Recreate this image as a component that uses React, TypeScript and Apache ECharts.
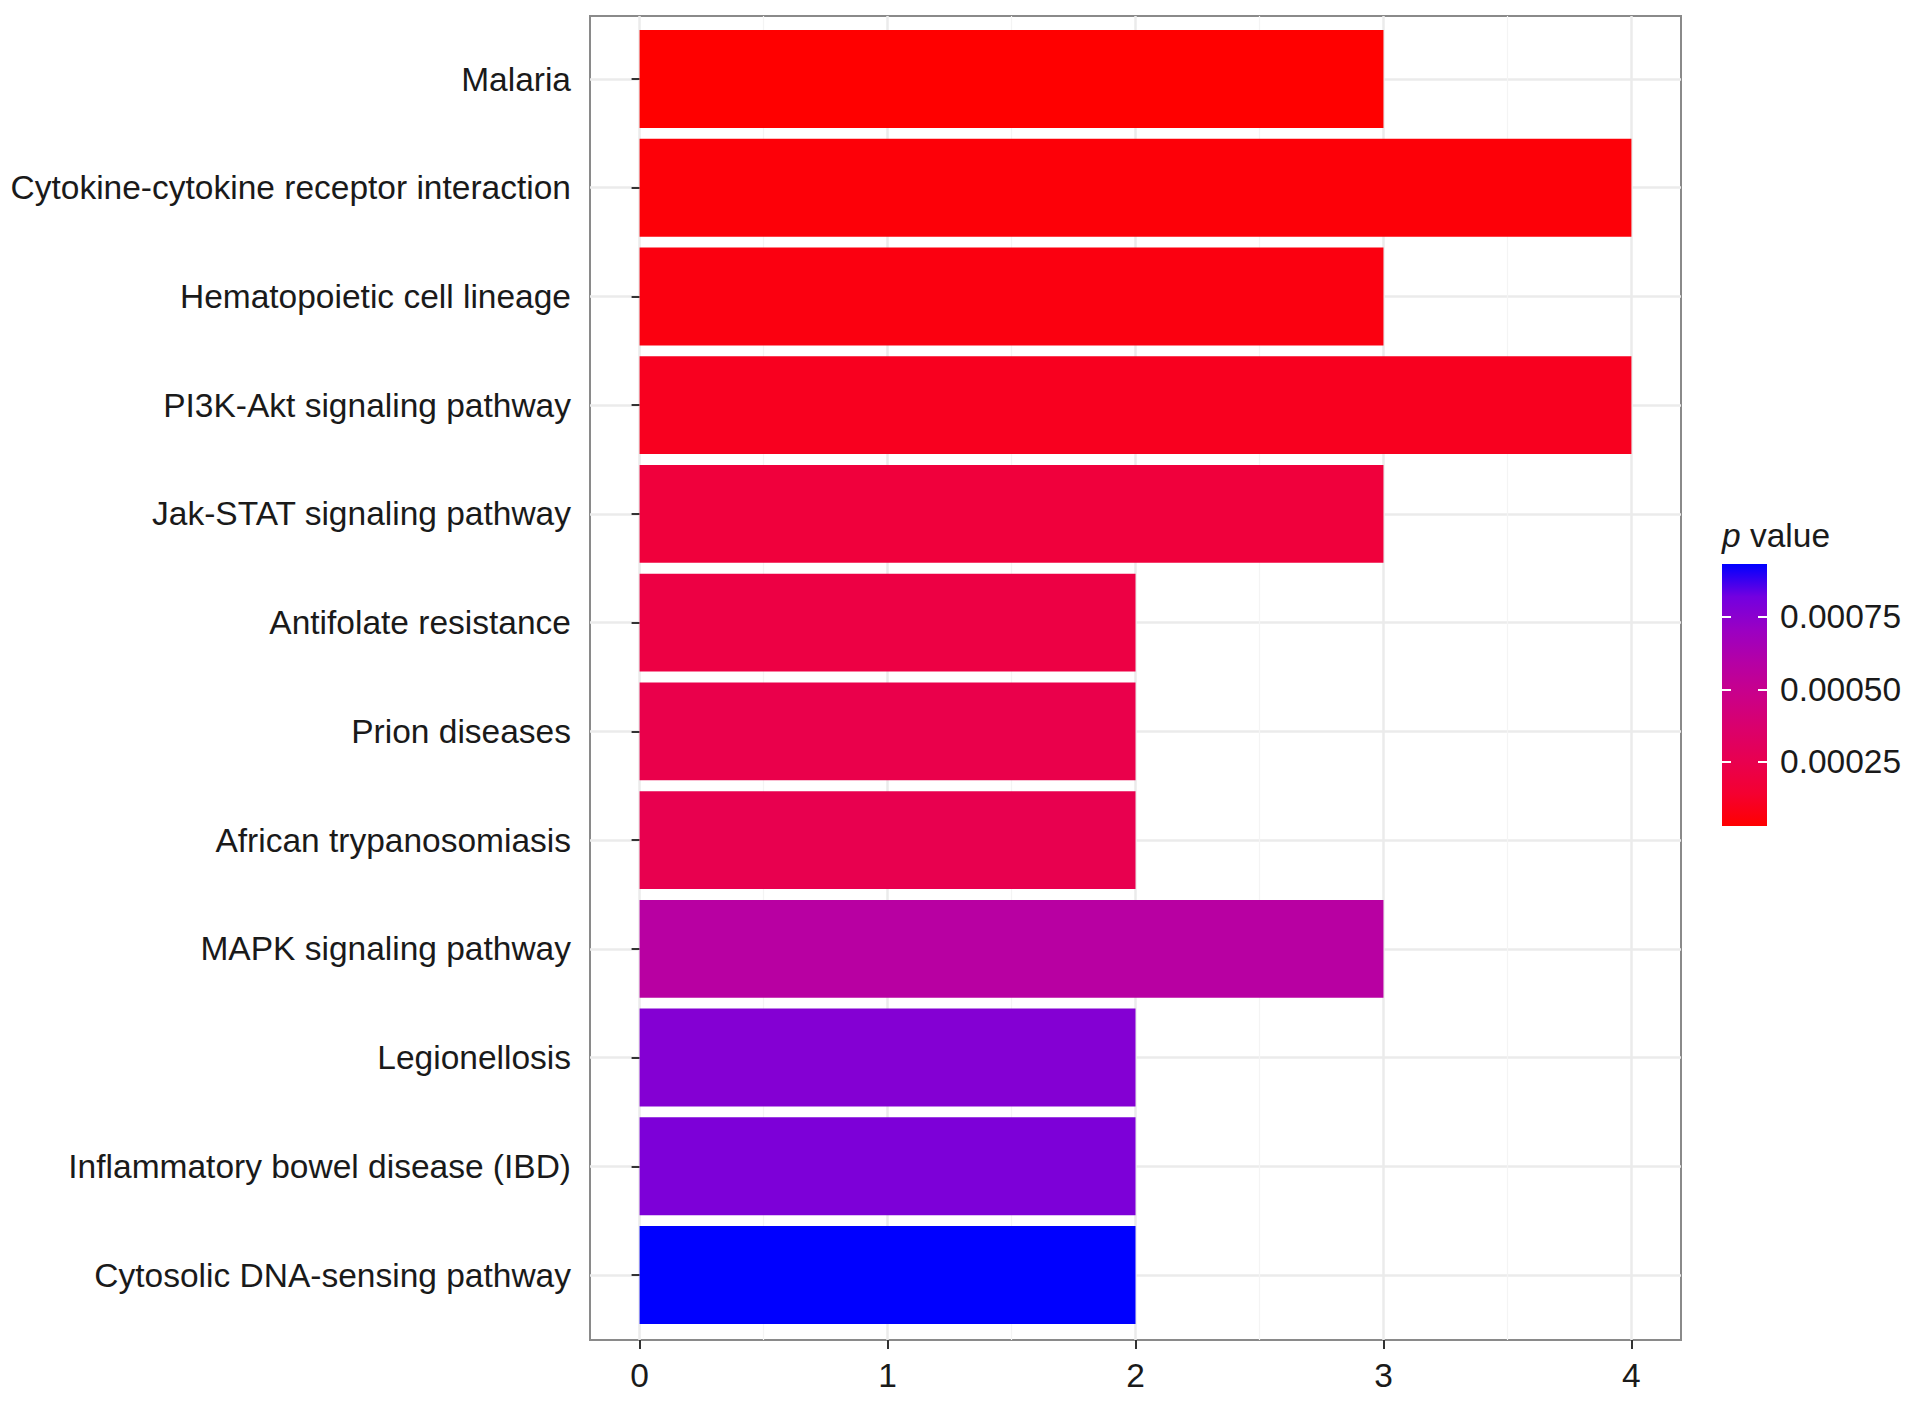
import { useEffect, useRef } from 'react'
import * as echarts from 'echarts'

const categories = [
  'Malaria',
  'Cytokine-cytokine receptor interaction',
  'Hematopoietic cell lineage',
  'PI3K-Akt signaling pathway',
  'Jak-STAT signaling pathway',
  'Antifolate resistance',
  'Prion diseases',
  'African trypanosomiasis',
  'MAPK signaling pathway',
  'Legionellosis',
  'Inflammatory bowel disease (IBD)',
  'Cytosolic DNA-sensing pathway',
]
const geneCounts = [3, 4, 3, 4, 3, 2, 2, 2, 3, 2, 2, 2]
const pValues = [0.000028, 0.000046, 0.000064, 0.0001, 0.00018, 0.00021, 0.000236, 0.00025, 0.00058, 0.00077, 0.00079, 0.000933]
const legendTicks = [0.00025, 0.0005, 0.00075]

// red -> blue ramp, sampled from a Lab interpolation like ggplot's gradient
const ramp = ['#FF0000', '#F40031', '#E80050', '#DA006C', '#CA0089', '#B500A5', '#9A00C3', '#7300E0', '#0000FF']

const FONT = '"Liberation Sans", Arial, Helvetica, sans-serif'
const TEXT = '#1a1a1a'
const pMin = Math.min(...pValues)
const pMax = Math.max(...pValues)

// panel box (pixels)
const PL = 590, PT = 16, PW = 1091, PH = 1324

export default function App() {
  const rootRef = useRef<HTMLDivElement | null>(null)
  useEffect(() => {
    document.body.style.margin = '0'
    if (!rootRef.current) return
    const chart = echarts.init(rootRef.current, null, { renderer: 'svg' })
    // top of the colour bar is blue (high p), bottom is red; offsets must ascend
    const gradStops = ramp.slice().reverse().map((c, i) => ({ offset: i / (ramp.length - 1), color: c }))
    chart.setOption({
      animation: false,
      textStyle: { fontFamily: FONT },
      grid: [
        { left: PL, top: PT, width: PW, height: PH, show: true, borderColor: '#8a8a8a', borderWidth: 2, backgroundColor: 'transparent' },
        { left: PL + (PW * 0.2) / 4.4, top: PT, width: (PW * 4) / 4.4, height: PH },
        { left: PL, top: 79, width: PW, height: 1196 },
        { left: 1722, top: 564, width: 45, height: 262 },
      ],
      xAxis: [
        { gridIndex: 0, type: 'value', show: false },
        {
          gridIndex: 1, type: 'value', min: 0, max: 4, interval: 1, position: 'bottom',
          axisLine: { show: false },
          axisTick: { show: true, length: 9, lineStyle: { color: '#333', width: 2 } },
          axisLabel: { fontSize: 33.5, color: TEXT, margin: 18, fontFamily: FONT },
          splitLine: { show: true, lineStyle: { color: '#ebebeb', width: 2.5 } },
          minorTick: { show: false, splitNumber: 2 },
          minorSplitLine: { show: true, lineStyle: { color: '#f4f4f4', width: 1.2 } },
        },
        { gridIndex: 2, type: 'value', min: -0.2, max: 4.2, show: false },
        { gridIndex: 3, type: 'category', data: ['c'], show: false },
      ],
      yAxis: [
        { gridIndex: 0, type: 'value', show: false },
        { gridIndex: 1, type: 'value', show: false },
        {
          gridIndex: 2, type: 'category', data: categories, inverse: true, boundaryGap: false,
          axisLine: { show: false },
          axisTick: { show: true, length: 8, interval: 0, lineStyle: { color: '#333', width: 2 } },
          axisLabel: { interval: 0, fontSize: 33.5, color: TEXT, margin: 19, fontFamily: FONT },
          splitLine: { show: true, interval: 0, lineStyle: { color: '#ebebeb', width: 2.5 } },
        },
        {
          gridIndex: 3, type: 'value', min: pMin, max: pMax, position: 'right', z: 5,
          axisLine: { show: false },
          splitLine: { show: false },
          axisTick: { show: true, inside: true, length: 9, customValues: legendTicks, lineStyle: { color: '#fff', width: 2 } },
          axisLabel: { customValues: legendTicks, formatter: (v: number) => v.toFixed(5), fontSize: 33.5, color: TEXT, margin: 13, fontFamily: FONT },
        },
        {
          gridIndex: 3, type: 'value', min: pMin, max: pMax, position: 'left', z: 5,
          axisLine: { show: false },
          splitLine: { show: false },
          axisTick: { show: true, inside: true, length: 9, customValues: legendTicks, lineStyle: { color: '#fff', width: 2 } },
          axisLabel: { show: false },
        },
      ],
      visualMap: {
        type: 'continuous', show: false, seriesIndex: 0, dimension: 2,
        min: pMin, max: pMax, inRange: { color: ramp },
      },
      graphic: [
        {
          type: 'text', left: 1722, top: 518, z: 10,
          style: {
            text: '{i|p} value', fontSize: 33.5, fill: TEXT, fontFamily: FONT,
            rich: { i: { fontStyle: 'italic', fontSize: 33.5, fontFamily: FONT, fill: TEXT } },
          },
        },
      ],
      series: [
        {
          type: 'bar', xAxisIndex: 2, yAxisIndex: 2, barWidth: '90%', clip: false,
          encode: { x: 0, y: 1 },
          data: categories.map((c, i) => [geneCounts[i], c, pValues[i]]),
        },
        {
          type: 'custom', xAxisIndex: 3, yAxisIndex: 3, z: 2,
          data: [[0, pMax, pMin]],
          renderItem: (_params: any, api: any) => {
            const top = api.coord([0, api.value(1)])
            const bottom = api.coord([0, api.value(2)])
            const w = api.size([1, 0])[0]
            return {
              type: 'rect',
              shape: { x: top[0] - w / 2, y: top[1], width: w, height: bottom[1] - top[1] },
              style: { fill: new echarts.graphic.LinearGradient(0, 0, 0, 1, gradStops) },
            }
          },
        },
      ],
    })
    return () => chart.dispose()
  }, [])

  return <div ref={rootRef} style={{ width: 1913, height: 1401 }} />
}
